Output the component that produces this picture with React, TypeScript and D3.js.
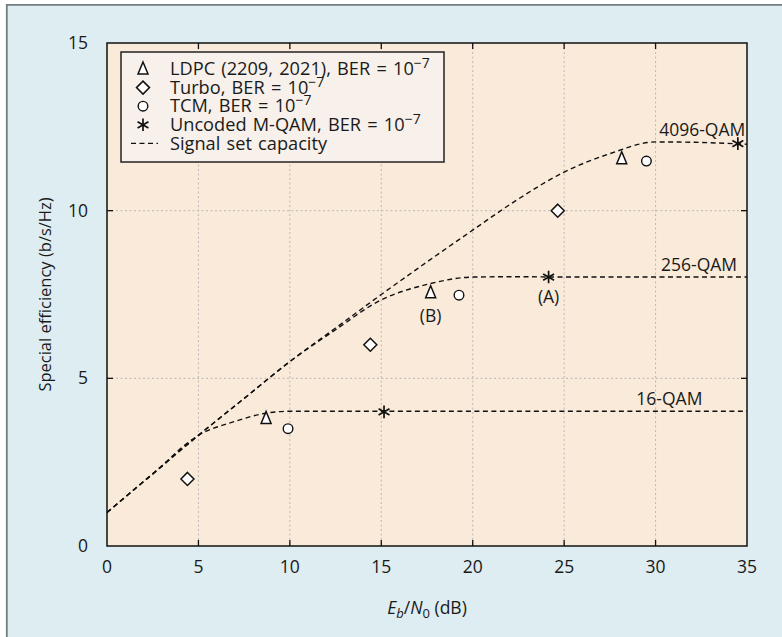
import React from "react";
import * as d3 from "d3";

const xTicks = [0, 5, 10, 15, 20, 25, 30, 35];
const yTicks = [0, 5, 10, 15];

// Measured points [Eb/N0 (dB), spectral efficiency]
const ldpc: [number, number][] = [[8.7, 3.8], [17.7, 7.55], [28.15, 11.55]];
const turbo: [number, number][] = [[4.4, 2.0], [14.4, 6.0], [24.65, 10.0]];
const tcm: [number, number][] = [[9.9, 3.5], [19.25, 7.48], [29.5, 11.48]];
const uncoded: [number, number][] = [[15.15, 4.0], [24.15, 8.02], [34.5, 12.0]];

// Signal set capacity curves
const cap16: [number, number][] = [
  [0, 1.0], [2.5, 2.15], [5, 3.3], [6.9, 3.7], [8.7, 3.96], [10, 4.02], [12, 4.02], [20, 4.02], [35, 4.02],
];
const cap256: [number, number][] = [
  [0, 1.0], [2.5, 2.15], [5, 3.3], [7.5, 4.4], [10, 5.5], [12.5, 6.45], [15, 7.34], [17.5, 7.8], [20, 8.02],
  [22.5, 8.03], [25, 8.02], [35, 8.02],
];
const cap4096: [number, number][] = [
  [0, 1.0], [2.5, 2.15], [5, 3.3], [7.5, 4.4], [10, 5.5], [12.5, 6.5], [15, 7.5], [17.5, 8.47], [20, 9.42],
  [22.5, 10.35], [25, 11.15], [27.5, 11.7], [30, 12.05], [32, 12.04], [35, 11.98],
];

const curveLabels = [
  { text: "16-QAM", x: 28.95, y: 4.02, dy: -6 },
  { text: "256-QAM", x: 30.3, y: 8.02, dy: -6 },
  { text: "4096-QAM", x: 30.2, y: 12.0, dy: -8 },
];

const W = 782;
const H = 637;
const FONT = "'Open Sans', 'Noto Sans', sans-serif";
const FS = 17.5;

const xs = d3.scaleLinear().domain([0, 35]).range([107, 747]);
const ys = d3.scaleLinear().domain([0, 15]).range([546, 43]);

const line = d3
  .line<[number, number]>()
  .x((d) => xs(d[0]))
  .y((d) => ys(d[1]))
  .curve(d3.curveMonotoneX);

const triPath = (cx: number, cy: number) =>
  `M${cx},${cy - 7}L${cx + 5},${cy + 5}L${cx - 5},${cy + 5}Z`;
const diaPath = (cx: number, cy: number) =>
  `M${cx},${cy - 6.5}L${cx + 6.5},${cy}L${cx},${cy + 6.5}L${cx - 6.5},${cy}Z`;
const astPath = (cx: number, cy: number) => {
  const r = 6.3;
  let p = "";
  for (const deg of [90, 30, 150]) {
    const t = (deg * Math.PI) / 180;
    const dx = r * Math.cos(t);
    const dy = r * Math.sin(t);
    p += `M${cx - dx},${cy - dy}L${cx + dx},${cy + dy}`;
  }
  return p;
};

function Tri({ cx, cy }: { cx: number; cy: number }) {
  return <path d={triPath(cx, cy)} fill="#fff" stroke="#111" strokeWidth={1.5} />;
}
function Dia({ cx, cy }: { cx: number; cy: number }) {
  return <path d={diaPath(cx, cy)} fill="#fff" stroke="#111" strokeWidth={1.5} />;
}
function Circ({ cx, cy }: { cx: number; cy: number }) {
  return <circle cx={cx} cy={cy} r={4.8} fill="#fff" stroke="#111" strokeWidth={1.4} />;
}
function Ast({ cx, cy }: { cx: number; cy: number }) {
  return <path d={astPath(cx, cy)} stroke="#111" strokeWidth={1.7} fill="none" />;
}

export default function App() {
  const x0 = xs(0), x1 = xs(35), y0 = ys(0), y1 = ys(15);
  const dash = "5,3.5";
  const legendRows = [
    { label: "LDPC (2209, 2021), BER = 10", sup: "−7", kind: "tri" },
    { label: "Turbo, BER = 10", sup: "−7", kind: "dia" },
    { label: "TCM, BER = 10", sup: "−7", kind: "circ" },
    { label: "Uncoded M-QAM, BER = 10", sup: "−7", kind: "ast" },
    { label: "Signal set capacity", sup: "", kind: "line" },
  ];
  const lgX = 121, lgY = 52, lgW = 323, lgH = 110;
  return (
    <svg
      width={W}
      height={H}
      style={{ position: "absolute", left: 0, top: 0, fontFamily: FONT }}
    >
      <rect x={0} y={0} width={W} height={H} fill="#fff" />
      <rect x={6} y={4} width={W - 6} height={H - 4} fill="#ddedf1" />
      <line x1={6.8} y1={4} x2={6.8} y2={H} stroke="#6f7d7d" strokeWidth={1.8} />
      <line x1={6} y1={4.8} x2={W} y2={4.8} stroke="#6f7d7d" strokeWidth={1.8} />

      <rect x={x0} y={y1} width={x1 - x0} height={y0 - y1} fill="#f9ead9" />

      {xTicks.slice(1, -1).map((t) => (
        <line key={"gx" + t} x1={xs(t)} x2={xs(t)} y1={y1} y2={y0} stroke="#b9b9b9" strokeWidth={1} strokeDasharray="2,2.5" />
      ))}
      {yTicks.slice(1, -1).map((t) => (
        <line key={"gy" + t} x1={x0} x2={x1} y1={ys(t)} y2={ys(t)} stroke="#b9b9b9" strokeWidth={1} strokeDasharray="2,2.5" />
      ))}

      {xTicks.slice(1, -1).map((t) => (
        <g key={"tx" + t}>
          <line x1={xs(t)} x2={xs(t)} y1={y0} y2={y0 - 6} stroke="#111" strokeWidth={1.3} />
          <line x1={xs(t)} x2={xs(t)} y1={y1} y2={y1 + 6} stroke="#111" strokeWidth={1.3} />
        </g>
      ))}
      {yTicks.slice(1, -1).map((t) => (
        <g key={"ty" + t}>
          <line x1={x0} x2={x0 + 6} y1={ys(t)} y2={ys(t)} stroke="#111" strokeWidth={1.3} />
          <line x1={x1} x2={x1 - 6} y1={ys(t)} y2={ys(t)} stroke="#111" strokeWidth={1.3} />
        </g>
      ))}

      {[cap16, cap256, cap4096].map((c, i) => (
        <path key={"c" + i} d={line(c) || ""} fill="none" stroke="#111" strokeWidth={1.4} strokeDasharray={dash} />
      ))}

      {curveLabels.map((l) => (
        <text key={l.text} x={xs(l.x)} y={ys(l.y) + l.dy} fontSize={FS} fill="#1a1a1a">
          {l.text}
        </text>
      ))}

      {turbo.map((d, i) => <Dia key={"d" + i} cx={xs(d[0])} cy={ys(d[1])} />)}
      {tcm.map((d, i) => <Circ key={"o" + i} cx={xs(d[0])} cy={ys(d[1])} />)}
      {ldpc.map((d, i) => <Tri key={"t" + i} cx={xs(d[0])} cy={ys(d[1])} />)}
      {uncoded.map((d, i) => <Ast key={"a" + i} cx={xs(d[0])} cy={ys(d[1])} />)}

      <text x={xs(uncoded[1][0])} y={ys(uncoded[1][1]) + 26} fontSize={FS} textAnchor="middle" fill="#1a1a1a">(A)</text>
      <text x={xs(ldpc[1][0])} y={ys(ldpc[1][1]) + 29} fontSize={FS} textAnchor="middle" fill="#1a1a1a">(B)</text>

      <rect x={x0} y={y1} width={x1 - x0} height={y0 - y1} fill="none" stroke="#111" strokeWidth={1.5} />

      <rect x={lgX} y={lgY} width={lgW} height={lgH} fill="#f8f0ea" stroke="#222" strokeWidth={1.5} />
      {legendRows.map((r, i) => {
        const cy = 69 + i * 18.6;
        const mx = 143;
        return (
          <g key={"lg" + i}>
            {r.kind === "tri" && <Tri cx={mx} cy={cy} />}
            {r.kind === "dia" && <Dia cx={mx} cy={cy} />}
            {r.kind === "circ" && <Circ cx={mx} cy={cy} />}
            {r.kind === "ast" && <Ast cx={mx} cy={cy} />}
            {r.kind === "line" && (
              <line x1={131} x2={158} y1={cy} y2={cy} stroke="#111" strokeWidth={1.4} strokeDasharray={dash} />
            )}
            <text x={170} y={cy + 6.2} fontSize={18.2} fill="#1a1a1a" wordSpacing={1.5}>
              {r.label}
              {r.sup && (
                <tspan fontSize={14} dy={-7}>{r.sup}</tspan>
              )}
            </text>
          </g>
        );
      })}

      {xTicks.map((t) => (
        <text key={"xl" + t} x={xs(t)} y={y0 + 27} fontSize={FS} textAnchor="middle" fill="#1a1a1a">
          {t}
        </text>
      ))}
      {yTicks.map((t) => (
        <text key={"yl" + t} x={88} y={ys(t) + 6} fontSize={FS} textAnchor="end" fill="#1a1a1a">
          {t}
        </text>
      ))}

      <text x={(x0 + x1) / 2} y={614} fontSize={FS} textAnchor="middle" fill="#1a1a1a">
        <tspan fontStyle="italic">E</tspan>
        <tspan fontStyle="italic" fontSize={13} dy={4}>b</tspan>
        <tspan dy={-4}>/</tspan>
        <tspan fontStyle="italic">N</tspan>
        <tspan fontSize={13} dy={4}>0</tspan>
        <tspan dy={-4}> (dB)</tspan>
      </text>
      <text
        transform={`translate(51,${(y0 + y1) / 2}) rotate(-90)`}
        fontSize={16.5}
        textAnchor="middle"
        fill="#1a1a1a"
      >
        Special efficiency (b/s/Hz)
      </text>
    </svg>
  );
}
